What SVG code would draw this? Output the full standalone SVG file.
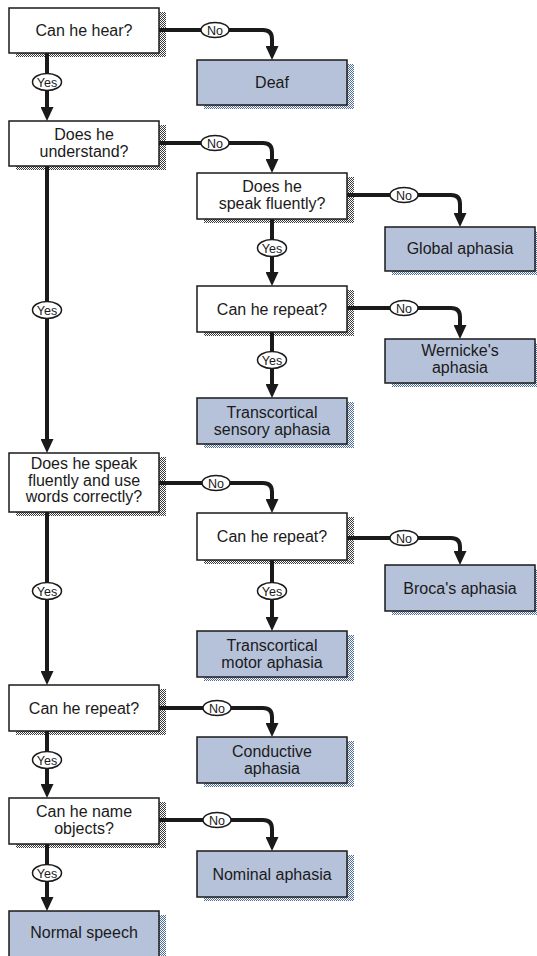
<svg xmlns="http://www.w3.org/2000/svg" width="537" height="956" viewBox="0 0 537 956">
<defs>
<pattern id="dotG" width="2" height="2" patternUnits="userSpaceOnUse">
<rect width="2" height="2" fill="#ffffff"/>
<rect width="1" height="1" fill="#3a3a3a"/>
<rect x="1" y="1" width="1" height="1" fill="#3a3a3a"/>
</pattern>
<pattern id="dotB" width="2" height="2" patternUnits="userSpaceOnUse">
<rect width="2" height="2" fill="#ffffff"/>
<rect width="1" height="1" fill="#4f6b9c"/>
<rect x="1" y="1" width="1" height="1" fill="#4f6b9c"/>
</pattern>
<marker id="ah" viewBox="0 0 14 13" refX="4" refY="6.5" markerWidth="14" markerHeight="13" markerUnits="userSpaceOnUse" orient="auto">
<path d="M0,0 L14,6.5 L0,13 z" fill="#1a1a1a"/>
</marker>
</defs>
<style>
.q{fill:#ffffff;stroke:#1a1a1a;stroke-width:1.5}
.r{fill:#b6c2da;stroke:#1a1a1a;stroke-width:1.5}
.sq{fill:url(#dotG)}
.sr{fill:url(#dotB)}
text{font-family:"Liberation Sans",Arial,sans-serif;font-size:16px;fill:#1a1a1a;text-anchor:middle}
.c{fill:none;stroke:#1a1a1a;stroke-width:4;marker-end:url(#ah)}
.lab{fill:#ffffff;stroke:#1a1a1a;stroke-width:1.5}
.lt{font-size:12.5px}
</style>
<rect width="537" height="956" fill="#ffffff"/>

<g id="n-hear"><rect class="sq" x="16" y="12" width="150" height="45"/><rect class="q" x="9" y="8" width="150" height="45"/><text x="84" y="36">Can he hear?</text></g>
<g id="n-deaf"><rect class="sr" x="204" y="64" width="150" height="45"/><rect class="r" x="197" y="60" width="150" height="45"/><text x="272" y="88">Deaf</text></g>
<g id="n-understand"><rect class="sq" x="16" y="125" width="150" height="45"/><rect class="q" x="9" y="121" width="150" height="45"/><text x="84" y="140">Does he</text><text x="84" y="156.5">understand?</text></g>
<g id="n-fluent"><rect class="sq" x="204" y="177" width="150" height="46"/><rect class="q" x="197" y="173" width="150" height="46"/><text x="272" y="192">Does he</text><text x="272" y="208.5">speak fluently?</text></g>
<g id="n-global"><rect class="sr" x="392" y="231" width="150" height="44"/><rect class="r" x="385" y="227" width="150" height="44"/><text x="460" y="254">Global aphasia</text></g>
<g id="n-repeat1"><rect class="sq" x="204" y="290" width="150" height="46"/><rect class="q" x="197" y="286" width="150" height="46"/><text x="272" y="314.5">Can he repeat?</text></g>
<g id="n-wernicke"><rect class="sr" x="392" y="343" width="150" height="44"/><rect class="r" x="385" y="339" width="150" height="44"/><text x="460" y="356">Wernicke's</text><text x="460" y="372.5">aphasia</text></g>
<g id="n-tsensory"><rect class="sr" x="204" y="402" width="150" height="46"/><rect class="r" x="197" y="398" width="150" height="46"/><text x="272" y="418">Transcortical</text><text x="272" y="434.5">sensory aphasia</text></g>
<g id="n-fluentwords"><rect class="sq" x="16" y="457" width="150" height="59"/><rect class="q" x="9" y="453" width="150" height="59"/><text x="84" y="469">Does he speak</text><text x="84" y="485.5">fluently and use</text><text x="84" y="502">words correctly?</text></g>
<g id="n-repeat2"><rect class="sq" x="204" y="517" width="150" height="47"/><rect class="q" x="197" y="513" width="150" height="47"/><text x="272" y="541.5">Can he repeat?</text></g>
<g id="n-broca"><rect class="sr" x="392" y="569" width="150" height="46"/><rect class="r" x="385" y="565" width="150" height="46"/><text x="460" y="593.5">Broca's aphasia</text></g>
<g id="n-tmotor"><rect class="sr" x="204" y="635" width="150" height="46"/><rect class="r" x="197" y="631" width="150" height="46"/><text x="272" y="651">Transcortical</text><text x="272" y="667.5">motor aphasia</text></g>
<g id="n-repeat3"><rect class="sq" x="16" y="689" width="150" height="46"/><rect class="q" x="9" y="685" width="150" height="46"/><text x="84" y="713.5">Can he repeat?</text></g>
<g id="n-conductive"><rect class="sr" x="204" y="741" width="150" height="46"/><rect class="r" x="197" y="737" width="150" height="46"/><text x="272" y="757">Conductive</text><text x="272" y="773.5">aphasia</text></g>
<g id="n-name"><rect class="sq" x="16" y="802" width="150" height="46"/><rect class="q" x="9" y="798" width="150" height="46"/><text x="84" y="817">Can he name</text><text x="84" y="833.5">objects?</text></g>
<g id="n-nominal"><rect class="sr" x="204" y="855" width="150" height="46"/><rect class="r" x="197" y="851" width="150" height="46"/><text x="272" y="879.5">Nominal aphasia</text></g>
<g id="n-normal"><rect class="sr" x="16" y="915" width="150" height="50"/><rect class="r" x="9" y="911" width="150" height="50"/><text x="84" y="938">Normal speech</text></g>

<g id="connectors">
<path class="c" d="M159,30 H263 Q272,30 272,39 V50"/>
<path class="c" d="M47,53 V111"/>
<path class="c" d="M159,143 H263 Q272,143 272,152 V163"/>
<path class="c" d="M47,166 V443"/>
<path class="c" d="M347,195 H451 Q460,195 460,204 V217"/>
<path class="c" d="M272,219 V276"/>
<path class="c" d="M347,308 H451 Q460,308 460,317 V329"/>
<path class="c" d="M272,332 V388"/>
<path class="c" d="M159,483 H263 Q272,483 272,492 V503"/>
<path class="c" d="M47,512 V675"/>
<path class="c" d="M347,538 H451 Q460,538 460,547 V555"/>
<path class="c" d="M272,560 V621"/>
<path class="c" d="M159,708 H263 Q272,708 272,717 V727"/>
<path class="c" d="M47,731 V788"/>
<path class="c" d="M159,820 H263 Q272,820 272,829 V841"/>
<path class="c" d="M47,844 V901"/>

<g id="labels">
<ellipse class="lab" cx="215" cy="30" rx="14" ry="7.5"/><text class="lt" x="215" y="34.5">No</text>
<ellipse class="lab" cx="47" cy="82" rx="14.5" ry="8.5"/><text class="lt" x="47" y="86.5">Yes</text>
<ellipse class="lab" cx="215" cy="143" rx="14" ry="7.5"/><text class="lt" x="215" y="147.5">No</text>
<ellipse class="lab" cx="47" cy="310" rx="14.5" ry="8.5"/><text class="lt" x="47" y="314.5">Yes</text>
<ellipse class="lab" cx="404" cy="195" rx="14" ry="7.5"/><text class="lt" x="404" y="199.5">No</text>
<ellipse class="lab" cx="272" cy="248" rx="14.5" ry="8.5"/><text class="lt" x="272" y="252.5">Yes</text>
<ellipse class="lab" cx="404" cy="308" rx="14" ry="7.5"/><text class="lt" x="404" y="312.5">No</text>
<ellipse class="lab" cx="272" cy="360" rx="14.5" ry="8.5"/><text class="lt" x="272" y="364.5">Yes</text>
<ellipse class="lab" cx="216" cy="483" rx="14" ry="7.5"/><text class="lt" x="216" y="487.5">No</text>
<ellipse class="lab" cx="47" cy="591" rx="14.5" ry="8.5"/><text class="lt" x="47" y="595.5">Yes</text>
<ellipse class="lab" cx="404" cy="538" rx="14" ry="7.5"/><text class="lt" x="404" y="542.5">No</text>
<ellipse class="lab" cx="272" cy="591" rx="14.5" ry="8.5"/><text class="lt" x="272" y="595.5">Yes</text>
<ellipse class="lab" cx="217" cy="708" rx="14" ry="7.5"/><text class="lt" x="217" y="712.5">No</text>
<ellipse class="lab" cx="47" cy="760" rx="14.5" ry="8.5"/><text class="lt" x="47" y="764.5">Yes</text>
<ellipse class="lab" cx="217" cy="820" rx="14" ry="7.5"/><text class="lt" x="217" y="824.5">No</text>
<ellipse class="lab" cx="47" cy="873" rx="14.5" ry="8.5"/><text class="lt" x="47" y="877.5">Yes</text>
</g>
</g>
</svg>
